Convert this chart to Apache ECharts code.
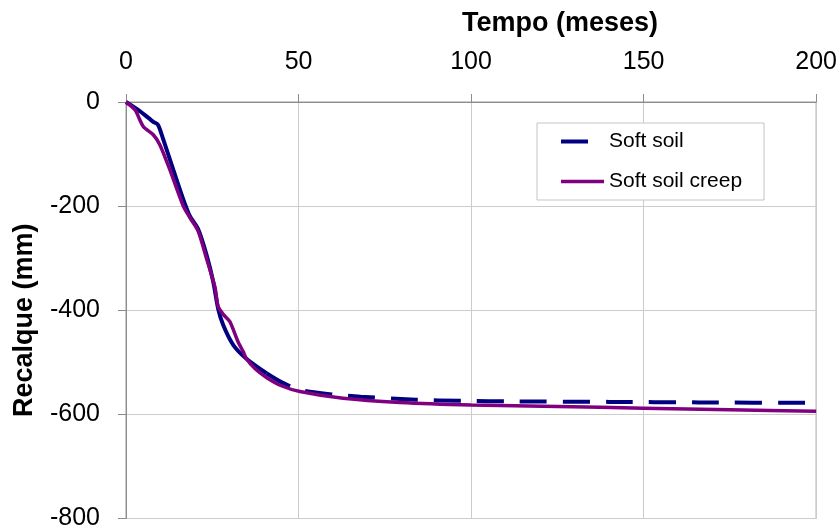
<!DOCTYPE html>
<html>
<head>
<meta charset="utf-8">
<script src="https://cdn.jsdelivr.net/npm/echarts@6/dist/echarts.min.js"></script>
<style>
  html, body { margin: 0; padding: 0; background: #fff; }
  #chart { width: 840px; height: 531px; }
</style>
</head>
<body>
<div id="chart"></div>
<script>
// Settlement (mm) versus time (months) for the two constitutive models
const xTicks = [0, 50, 100, 150, 200];
const yTicks = [0, -200, -400, -600, -800];

// Soft soil: dense early record (drawn solid) and the later record (dashed)
const softEarlyT = [0, 4.1, 7.9, 9.3, 10.8, 13.7, 16.6, 18.5, 20.9, 23.4, 25.3, 26.7, 28.2, 31.1, 34.9, 40.7];
const softEarlyV = [0, -18, -38, -44, -72, -130, -187, -219, -244, -295, -346, -397, -429, -467, -493, -521];
const softLateT = [40.7, 45, 50.4, 60, 68, 84, 97, 113, 140, 166, 200];
const softLateV = [-521, -538, -553, -562, -566, -572, -574, -575, -576, -577, -578];

// Soft soil creep
const creepT = [0, 2.6, 5, 7.9, 9.8, 12.7, 16.6, 18.5, 20.9, 23.4, 25.8, 26.7, 28.2, 30.1, 32.5, 34, 34.9, 37.5, 40.7, 45, 50.4, 62.9, 79.3, 100, 125, 150, 175, 200];
const creepV = [0, -15, -47, -63, -82, -130, -200, -222, -248, -302, -356, -393, -408, -422, -461, -480, -493, -513, -529, -545, -556, -569, -577, -582, -585, -588, -591, -594];

const pairs = (t, v) => t.map((x, i) => [x, v[i]]);

const FONT = "'Liberation Sans', Arial, sans-serif";
const NAVY = '#000080';
const PURPLE = '#800080';

const chart = echarts.init(document.getElementById('chart'), null, { renderer: 'canvas' });

chart.setOption({
  animation: false,
  backgroundColor: '#ffffff',
  grid: {
    left: 126, top: 102, right: 23, bottom: 10,
    show: true, borderColor: '#9a9a9a', borderWidth: 1, backgroundColor: 'transparent'
  },
  legend: {
    orient: 'vertical',
    left: 537, top: 123,
    padding: [8, 22, 8, 22],
    itemGap: 19,
    itemWidth: 43,
    itemHeight: 14,
    backgroundColor: '#ffffff',
    borderColor: '#c4c4c4',
    borderWidth: 1,
    data: ['Soft soil', 'Soft soil creep'],
    itemStyle: { opacity: 0 },
    lineStyle: { width: 'inherit', type: 'inherit' },
    textStyle: { fontFamily: FONT, fontSize: 21, color: '#000' }
  },
  xAxis: {
    type: 'value',
    position: 'top',
    min: xTicks[0], max: xTicks[xTicks.length - 1], interval: 50,
    name: 'Tempo (meses)',
    nameLocation: 'middle',
    nameGap: 65,
    nameTextStyle: { fontFamily: FONT, fontSize: 27, fontWeight: 'bold', color: '#000', padding: [0, 0, 0, 178] },
    axisLine: { show: true, lineStyle: { color: '#8c8c8c', width: 1 } },
    axisTick: { show: true, inside: false, length: 8, lineStyle: { color: '#8c8c8c' } },
    axisLabel: { margin: 27, fontFamily: FONT, fontSize: 25, color: '#000' },
    splitLine: { show: true, lineStyle: { color: '#cccccc', width: 1 } }
  },
  yAxis: {
    type: 'value',
    min: yTicks[yTicks.length - 1], max: yTicks[0], interval: 200,
    name: 'Recalque (mm)',
    nameLocation: 'middle',
    nameGap: 88,
    nameTextStyle: { fontFamily: FONT, fontSize: 27, fontWeight: 'bold', color: '#000', padding: [0, 20, 0, 0] },
    axisLine: { show: true, lineStyle: { color: '#8c8c8c', width: 1 } },
    axisTick: { show: true, inside: false, length: 8, lineStyle: { color: '#8c8c8c' } },
    axisLabel: { margin: 26, fontFamily: FONT, fontSize: 25, color: '#000' },
    splitLine: { show: true, lineStyle: { color: '#cccccc', width: 1 } }
  },
  series: [
    {
      name: 'Soft soil',
      type: 'line',
      data: pairs(softLateT, softLateV),
      symbol: 'none',
      smooth: 0.25,
      lineStyle: { color: NAVY, width: 4, type: [27, 16], cap: 'butt' },
      itemStyle: { color: NAVY },
      z: 2
    },
    {
      name: 'Soft soil',
      type: 'line',
      data: pairs(softEarlyT, softEarlyV),
      symbol: 'none',
      smooth: 0.25,
      lineStyle: { color: NAVY, width: 4, type: 'solid' },
      itemStyle: { color: NAVY },
      z: 2
    },
    {
      name: 'Soft soil creep',
      type: 'line',
      data: pairs(creepT, creepV),
      symbol: 'none',
      smooth: 0.25,
      lineStyle: { color: PURPLE, width: 3.5, type: 'solid' },
      itemStyle: { color: PURPLE },
      z: 3
    }
  ]
});
</script>
</body>
</html>
